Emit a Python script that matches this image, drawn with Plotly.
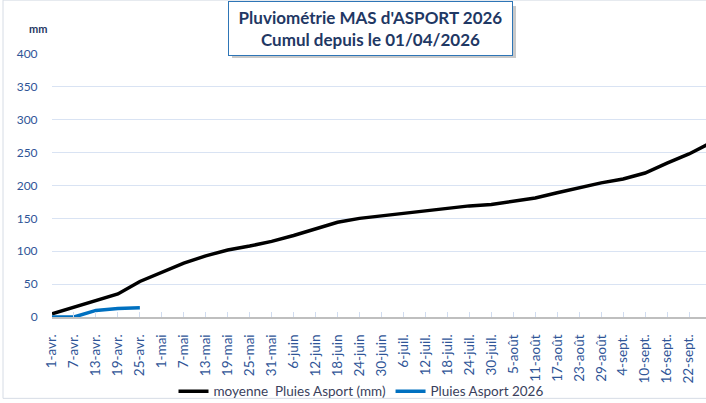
import plotly.graph_objects as go

categories = ["1-avr.", "7-avr.", "13-avr.", "19-avr.", "25-avr.", "1-mai", "7-mai", "13-mai",
              "19-mai", "25-mai", "31-mai", "6-juin", "12-juin", "18-juin", "24-juin", "30-juin",
              "6-juil.", "12-juil.", "18-juil.", "24-juil.", "30-juil.", "5-août", "11-août",
              "17-août", "23-août", "29-août", "4-sept.", "10-sept.", "16-sept.", "22-sept.", "28-sept."]
moyenne = [5, 15, 24, 35, 54, 68, 82, 93, 102, 108, 115, 124, 134, 144, 150, 154, 158, 161,
           166, 169, 171, 176, 181, 189, 197, 204, 210, 219, 234, 248, 265]
pluies_2026 = [0, 0, 10, 13, 14]

y_ticks = [0, 50, 100, 150, 200, 250, 300, 350, 400]

FONT = "Lato"
NAVY = "#1F3864"
TICKBLUE = "#2F5597"

# plot area geometry (pixels)
W, H = 706, 403
L, T, B = 52, 54, 85.5
plot_w = W - L
plot_h = H - T - B


def px_x(p):
    return (p - L) / plot_w


def px_y(p):
    return (H - B - p) / plot_h


fig = go.Figure()
fig.add_trace(go.Scatter(
    x=categories, y=moyenne, mode="lines", name="moyenne\u00a0\u00a0Pluies Asport (mm)",
    line=dict(color="black", width=3.5)))
fig.add_trace(go.Scatter(
    x=categories[:len(pluies_2026)], y=pluies_2026, mode="lines", name="Pluies Asport 2026",
    line=dict(color="#0070C0", width=3.5)))

fig.update_layout(
    width=W, height=H,
    margin=dict(l=L, r=0, t=T, b=B, autoexpand=False),
    paper_bgcolor="white", plot_bgcolor="white",
    font=dict(family=FONT, size=12, color=TICKBLUE),
    showlegend=True,
    legend=dict(orientation="h", x=px_x(361), y=px_y(392), xanchor="center", yanchor="middle",
                font=dict(family=FONT, size=13.5, color="#3A3F5C"), itemwidth=30,
                tracegroupgap=0, bgcolor="rgba(0,0,0,0)"),
    xaxis=dict(type="category", range=[0, (W - L) / ((689 - 52) / 29)], automargin=False,
               tickangle=-90, showgrid=False, showline=True, linecolor="#BFBFBF", linewidth=2,
               ticks="inside", ticklen=5, tickcolor="#D0DCF0", tickwidth=1,
               ticklabelstandoff=10,
               tickfont=dict(family=FONT, size=13.5, color=TICKBLUE)),
    yaxis=dict(range=[0, 400], tickvals=y_ticks, showgrid=True, gridcolor="#D9E3F3", gridwidth=1,
               automargin=False,
               zeroline=False, showline=False, ticks="outside", ticklen=11,
               tickcolor="rgba(0,0,0,0)",
               tickfont=dict(family=FONT, size=12, color=TICKBLUE)),
    annotations=[
        dict(xref="paper", yref="paper", x=px_x(370.5), y=px_y(28), xanchor="center", yanchor="middle",
             text="<b>Pluviométrie MAS d'ASPORT 2026</b><br><b>Cumul depuis le 01/04/2026</b>",
             showarrow=False, font=dict(family=FONT, size=17, color=NAVY),
             bgcolor="white", bordercolor="#2E75B6", borderwidth=1, width=281, height=51),
        dict(xref="paper", yref="paper", x=px_x(38), y=px_y(28), xanchor="center", yanchor="middle",
             text="<b>mm</b>", showarrow=False, font=dict(family=FONT, size=11, color=NAVY)),
    ],
    shapes=[
        # title shadow
        dict(type="rect", xref="paper", yref="paper", x0=px_x(232), x1=px_x(516), y0=px_y(58), y1=px_y(6),
             fillcolor="rgba(120,120,120,0.4)", line=dict(width=0), layer="above"),
        # chart border
        dict(type="rect", xref="paper", yref="paper", x0=px_x(3), x1=px_x(720), y0=px_y(399), y1=px_y(0),
             fillcolor="rgba(0,0,0,0)", line=dict(color="#D6DCE5", width=1), layer="below"),
    ],
)

fig.write_html("out.html", config={"displayModeBar": False},
               post_script="document.body.style.margin='0';")
